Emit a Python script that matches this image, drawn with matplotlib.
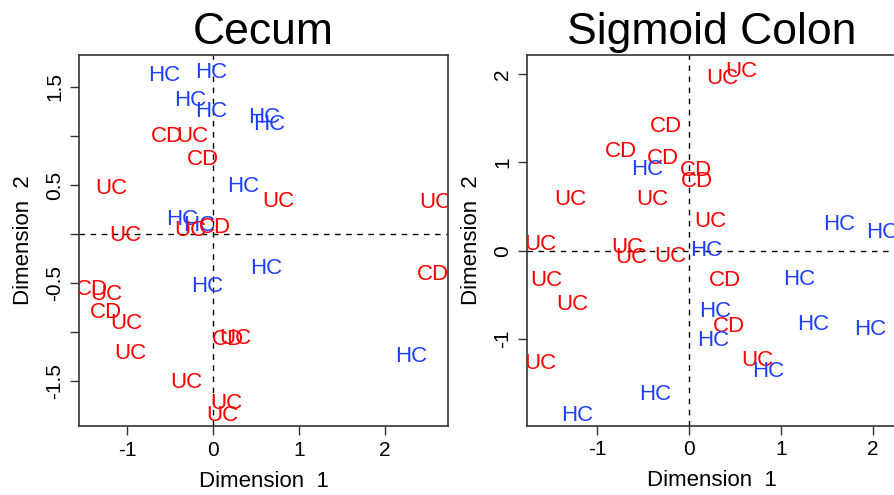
import matplotlib.pyplot as plt

plt.rcParams['font.family'] = ['Liberation Sans', 'DejaVu Sans']
plt.rcParams['axes.unicode_minus'] = False

# Cecum MDS coordinates
cecum_labels = ['HC', 'HC', 'HC', 'HC', 'HC', 'HC', 'HC', 'HC', 'HC', 'HC', 'HC', 'HC',
                'CD', 'CD', 'CD', 'CD', 'CD', 'CD', 'CD',
                'UC', 'UC', 'UC', 'UC', 'UC', 'UC', 'UC', 'UC', 'UC', 'UC', 'UC', 'UC', 'UC']
cecum_x = [-0.571, -0.019, -0.272, -0.027, 0.594, 0.653, 0.343, -0.368, -0.167, 0.622, -0.077, 2.301,
           -0.543, -0.117, 0.019, 2.557, -1.41, -1.251, 0.175,
           -0.240, -1.192, 0.758, 2.584, -0.272, -1.029, -1.251, -1.010, -0.971, 0.253, -0.318, 0.156, 0.110]
cecum_y = [1.644, 1.671, 1.383, 1.271, 1.213, 1.145, 0.510, 0.177, 0.113, -0.322, -0.508, -1.221,
           1.019, 0.782, 0.092, -0.389, -0.535, -0.773, -1.045,
           1.019, 0.493, 0.354, 0.347, 0.061, 0.008, -0.586, -0.882, -1.190, -1.038, -1.486, -1.697, -1.819]

# Sigmoid colon MDS coordinates
sigmoid_labels = ['UC', 'UC', 'UC', 'UC', 'UC', 'UC', 'UC', 'UC', 'UC', 'UC', 'UC', 'UC', 'UC',
                  'CD', 'CD', 'CD', 'CD', 'CD', 'CD', 'CD',
                  'HC', 'HC', 'HC', 'HC', 'HC', 'HC', 'HC', 'HC', 'HC', 'HC', 'HC', 'HC']
sigmoid_x = [0.363, 0.570, -1.298, -0.403, 0.233, -1.617, -0.675, -0.627, -0.210, -1.559, -1.269, -1.617, 0.740,
             -0.254, -0.746, -0.283, 0.073, 0.087, 0.388, 0.435,
             -0.457, 1.632, 2.094, 0.189, 1.194, 0.287, 1.343, 1.966, 0.261, 0.860, -0.366, -1.225]
sigmoid_y = [1.978, 2.054, 0.612, 0.612, 0.356, 0.102, 0.065, -0.049, -0.037, -0.313, -0.578, -1.246, -1.219,
             1.435, 1.152, 1.073, 0.933, 0.809, -0.313, -0.834,
             0.944, 0.328, 0.234, 0.027, -0.294, -0.660, -0.804, -0.868, -0.992, -1.344, -1.597, -1.835]

group_colors = {'HC': '#1f3fff', 'CD': '#ff0000', 'UC': '#ff0000'}

fig = plt.figure(figsize=(8.95, 4.95), dpi=100)
ax1 = fig.add_axes([79 / 895, 1 - 426 / 495, 369 / 895, 371 / 495])
ax2 = fig.add_axes([526.7 / 895, 1 - 425.7 / 495, 370 / 895, 371 / 495])


def mds_panel(ax, labels, xs, ys, title, xlim, ylim):
    for lab, x, y in zip(labels, xs, ys):
        ax.text(x, y, lab, color=group_colors[lab], fontsize=16,
                ha='center', va='center_baseline', clip_on=True)
    ax.axhline(0, color='black', linestyle=(0, (4, 4)), linewidth=1)
    ax.axvline(0, color='black', linestyle=(0, (4, 4)), linewidth=1)
    ax.set_xlim(xlim)
    ax.set_ylim(ylim)
    ax.set_title(title, fontsize=32, pad=8)
    ax.set_xlabel('Dimension  1', fontsize=16, labelpad=8)
    ax.set_ylabel('Dimension  2', fontsize=16, labelpad=8)
    ax.tick_params(direction='out', length=6.5, width=1, labelsize=15, pad=4, color='#333333')
    for sp in ax.spines.values():
        sp.set_color('#333333')
        sp.set_linewidth(1.2)


mds_panel(ax1, cecum_labels, cecum_x, cecum_y, 'Cecum', (-1.565, 2.735), (-1.954, 1.824))
ax1.set_xticks([-1, 0, 1, 2])
ax1.set_yticks([-1.5, -1.0, -0.5, 0.0, 0.5, 1.0, 1.5])
ax1.set_yticklabels(['-1.5', '', '-0.5', '', '0.5', '', '1.5'], rotation=90, va='center')

mds_panel(ax2, sigmoid_labels, sigmoid_x, sigmoid_y, 'Sigmoid Colon', (-1.769, 2.257), (-1.982, 2.220))
ax2.set_xticks([-1, 0, 1, 2])
ax2.set_yticks([-1, 0, 1, 2])
ax2.set_yticklabels(['-1', '0', '1', '2'], rotation=90, va='center')

fig.savefig('out.png', dpi=100)
